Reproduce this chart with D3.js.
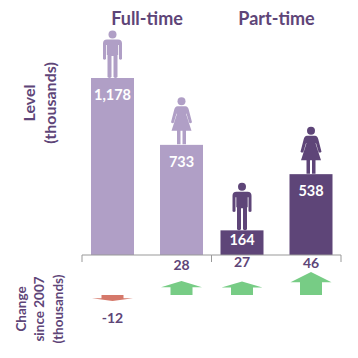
<!DOCTYPE html>
<html>
<head>
<meta charset="utf-8">
<script src="https://d3js.org/d3.v7.min.js"></script>
<style>
  html, body { margin: 0; padding: 0; background: #fff; }
  text { font-family: Lato, "Open Sans", sans-serif; font-weight: 700; }
</style>
</head>
<body>
<div id="chart"></div>
<script>
// values
var groups = ["Full-time", "Part-time"];
var genders = ["Men", "Women"];
var barGroups = ["Full-time", "Full-time", "Part-time", "Part-time"];
var barGenders = ["Men", "Women", "Men", "Women"];
var levels = [1178, 733, 164, 538];
var changes = [-12, 28, 27, 46];

var purple = "#5e4578", lilac = "#b09fc6";
var barColors = [lilac, lilac, purple, purple];

var svg = d3.select("#chart").append("svg").attr("width", 358).attr("height", 358);

// group centre, then men/women offset around it
var xGroup = d3.scalePoint().domain(groups).range([147, 276.5]);
var xGender = d3.scalePoint().domain(genders).range([-34.5, 34.5]);
function xCentre(i) { return xGroup(barGroups[i]) + xGender(barGenders[i]); }

var barWidth = 43;
var baseY = 255;
var yLevel = d3.scaleLinear().domain([0, 1178]).range([baseY, 78]);

// arrows share a base line, half a pixel per thousand
var arrowBase = 295;
var yChange = d3.scaleLinear().domain([0, 46]).range([arrowBase, 272]);

// bars
svg.selectAll("rect.bar")
   .data(levels).enter().append("rect")
   .attr("class", "bar")
   .attr("x", function(d, i){ return xCentre(i) - barWidth / 2; })
   .attr("y", function(d){ return yLevel(d); })
   .attr("width", barWidth)
   .attr("height", function(d){ return baseY - yLevel(d); })
   .attr("fill", function(d, i){ return barColors[i]; });

// bar labels sit lower down, except the short bar where they are centred
svg.selectAll("text.level")
   .data(levels).enter().append("text")
   .attr("class", "level")
   .attr("x", function(d, i){ return xCentre(i); })
   .attr("y", function(d){ return yLevel(d) + Math.min(17, (baseY - yLevel(d)) / 2 - 3); })
   .attr("dy", "0.35em")
   .attr("text-anchor", "middle")
   .attr("font-size", 14.5)
   .attr("fill", "#fff")
   .text(function(d){ return d3.format(",")(d); });

// pictograms, feet at 0, centred on x = 0
var manShape = "M-5.5,-38.5 L5.5,-38.5 Q9.5,-38.5 9.5,-34.5 L9.5,-19 Q8,-17.5 6.5,-19 L6.5,-33 L5.7,-33 L5.7,-23 L5,-23 L5,-1 Q3,1 1,-1 L1,-22 L-1,-22 L-1,-1 Q-3,1 -5,-1 L-5,-23 L-5.7,-23 L-5.7,-33 L-6.5,-33 L-6.5,-19 Q-8,-17.5 -9.5,-19 L-9.5,-34.5 Q-9.5,-38.5 -5.5,-38.5 Z";
var womanShape = "M-4,-38.5 L4,-38.5 Q6.5,-38.5 7.3,-35 L10.5,-22.5 Q9,-21 7.7,-22 L5,-31 L4.5,-31 L10,-14 L4.5,-14 L4.5,-0.5 L1,-0.5 L1,-14 L-1,-14 L-1,-0.5 L-4.5,-0.5 L-4.5,-14 L-10,-14 L-4.5,-31 L-5,-31 L-7.7,-22 Q-9,-21 -10.5,-22.5 L-7.3,-35 Q-6.5,-38.5 -4,-38.5 Z";

var icons = svg.selectAll("g.icon")
   .data(levels).enter().append("g")
   .attr("class", "icon")
   .attr("transform", function(d, i){ return "translate(" + xCentre(i) + "," + yLevel(d) + ")"; })
   .attr("fill", function(d, i){ return barColors[i]; });
icons.append("circle").attr("cy", -43.5).attr("r", 4);
icons.append("path").attr("d", function(d, i){ return barGenders[i] == "Men" ? manShape : womanShape; });

// axis line with its three ticks
var axisTicks = groups.concat(["end"]);
var xTick = d3.scalePoint().domain(axisTicks).range([82, 341]);
svg.append("path")
   .attr("d", d3.line()(axisTicks.map(function(t){ return [xTick(t), baseY]; })))
   .attr("stroke", "#999").attr("fill", "none").attr("stroke-width", 1);
svg.selectAll("line.tick")
   .data(axisTicks).enter().append("line")
   .attr("class", "tick")
   .attr("x1", function(t){ return xTick(t); })
   .attr("x2", function(t){ return xTick(t); })
   .attr("y1", baseY)
   .attr("y2", baseY + 7)
   .attr("stroke", "#999");

// block arrows, head is a bit under half of the length
function arrowPath(d, i) {
   var x = xCentre(i), tip = yChange(d), head = (tip - arrowBase) * 0.45;
   var neck = tip - head;
   return d3.line()([
     [x - 11, arrowBase], [x - 11, neck], [x - 20.5, neck], [x, tip],
     [x + 20.5, neck], [x + 11, neck], [x + 11, arrowBase]
   ]) + "Z";
}
svg.selectAll("path.arrow")
   .data(changes).enter().append("path")
   .attr("class", "arrow")
   .attr("d", arrowPath)
   .attr("fill", function(d){ return d < 0 ? "#d5786a" : "#77cc85"; });

// change labels were hand placed in the original, so they don't follow the arrows
var changeLabelY = [318, 265, 262, 263];
svg.selectAll("text.change")
   .data(changes).enter().append("text")
   .attr("class", "change")
   .attr("x", function(d, i){ return xCentre(i); })
   .attr("y", function(d, i){ return changeLabelY[i]; })
   .attr("dy", "0.35em")
   .attr("text-anchor", "middle")
   .attr("font-size", 14)
   .attr("fill", purple)
   .text(function(d){ return d; });

// group titles
svg.selectAll("text.title")
   .data(groups).enter().append("text")
   .attr("class", "title")
   .attr("x", function(d){ return xGroup(d); })
   .attr("y", 19)
   .attr("dy", "0.35em")
   .attr("text-anchor", "middle")
   .attr("font-size", 18)
   .attr("fill", purple)
   .text(function(d){ return d; });

// rotated row labels
var rowLabels = [
  {text: "Level", x: 29, y: 103, size: 16},
  {text: "(thousands)", x: 50, y: 103, size: 16},
  {text: "Change", x: 21, y: 309, size: 13.5},
  {text: "since 2007", x: 39, y: 309, size: 13.5},
  {text: "(thousands)", x: 58, y: 309, size: 13.5}
];
svg.selectAll("text.row")
   .data(rowLabels).enter().append("text")
   .attr("class", "row")
   .attr("transform", function(d){ return "translate(" + d.x + "," + d.y + ") rotate(-90)"; })
   .attr("dy", "0.35em")
   .attr("text-anchor", "middle")
   .attr("font-size", function(d){ return d.size; })
   .attr("fill", purple)
   .text(function(d){ return d.text; });
</script>
</body>
</html>
